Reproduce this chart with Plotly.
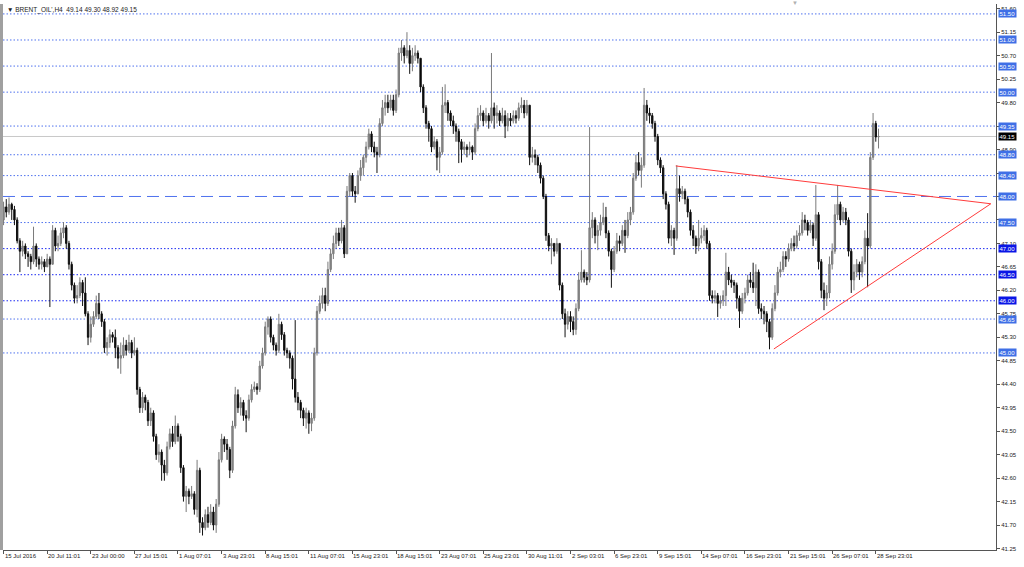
import plotly.graph_objects as go

# ---------------- data (H4 bars) ----------------
first_open = 47.55
closes = [
    47.80, 47.70, 47.85, 47.75, 47.55, 47.15, 46.95, 47.05, 46.90, 46.85,
    46.75, 47.05, 46.80, 46.70, 46.75, 46.65, 46.80, 46.70, 47.35, 47.05,
    47.10, 47.30, 47.40, 47.10, 46.70, 46.30, 46.05, 46.10, 46.35, 46.15,
    45.75, 45.30, 45.55, 45.70, 45.95, 45.75, 45.60, 45.10, 45.20, 45.35,
    45.30, 45.10, 44.90, 44.95, 45.15, 45.05, 45.20, 45.00, 45.05, 44.30,
    43.95, 44.15, 44.05, 43.70, 43.85, 43.40, 43.05, 43.10, 42.85, 42.70,
    43.20, 43.45, 43.30, 43.60, 43.40, 42.80, 42.25, 42.35, 42.25, 42.30,
    42.00, 42.75, 41.75, 41.65, 41.90, 41.75, 41.95, 41.70, 42.10, 42.95,
    43.35, 43.25, 43.15, 42.75, 43.60, 44.20, 43.95, 44.05, 43.80, 43.75,
    44.10, 44.30, 44.35, 44.30, 44.75, 45.00, 45.50, 45.65, 45.30, 45.15,
    45.05, 45.55, 45.35, 45.05, 45.00, 44.90, 44.50, 44.15, 44.05, 43.90,
    43.75, 43.85, 43.65, 43.75, 45.00, 45.80, 45.95, 46.10, 45.95, 46.60,
    46.90, 47.10, 47.30, 47.15, 47.40, 46.90, 48.10, 48.40, 48.10, 48.05,
    48.40, 48.55, 48.75, 48.95, 49.20, 48.95, 48.85, 48.80, 49.40, 49.70,
    49.80, 49.70, 49.85, 49.65, 49.95, 50.75, 50.85, 50.70, 50.80, 50.55,
    50.70, 50.75, 50.65, 50.10, 49.70, 49.40, 49.30, 48.95, 49.05, 48.75,
    48.85, 49.75, 49.80, 49.60, 49.45, 49.35, 49.25, 49.05, 48.90, 48.95,
    48.90, 48.95, 48.85, 49.30, 49.55, 49.60, 49.45, 49.55, 49.45, 49.70,
    49.55, 49.60, 49.45, 49.55, 49.35, 49.50, 49.45, 49.55, 49.50, 49.70,
    49.75, 49.60, 49.75, 48.75, 48.80, 48.75, 48.60, 48.35, 48.00, 47.25,
    47.05, 47.10, 46.95, 47.10, 46.30, 45.75, 45.55, 45.70, 45.60, 45.45,
    45.85, 46.40, 46.55, 46.45, 46.40, 47.40, 47.55, 47.25, 47.35, 47.50,
    47.60, 47.30, 46.95, 46.60, 46.95, 47.15, 47.10, 47.35, 47.25, 47.55,
    47.70, 48.35, 48.65, 48.50, 48.60, 49.75, 49.60, 49.55, 49.40, 49.15,
    48.70, 48.55, 48.05, 47.85, 47.20, 47.35, 47.20, 48.15, 48.05, 48.10,
    47.95, 47.70, 47.35, 47.20, 47.05, 47.20, 47.25, 47.35, 47.10, 46.10,
    46.05, 46.10, 45.95, 46.00, 46.10, 46.55, 46.40, 46.35, 46.30, 46.05,
    45.80, 46.05, 46.15, 46.40, 46.35, 46.25, 46.55, 45.85, 45.80, 45.75,
    45.60, 45.30, 45.85, 46.15, 46.55, 46.60, 46.85, 46.80, 47.00, 47.10,
    47.05, 47.25, 47.30, 47.55, 47.50, 47.35, 47.45, 47.20, 47.65, 46.75,
    46.20, 46.05, 46.15, 46.70, 46.95, 47.65, 47.85, 47.55, 47.70, 47.55,
    46.95, 46.40, 46.55, 46.70, 46.55, 46.75, 47.20, 47.05, 48.75, 49.40,
    49.14, 49.15,
]
highs = [
    47.90, 47.95, 47.98, 47.88, 47.82, 47.60, 47.20, 47.15, 47.10, 46.95,
    46.90, 47.42, 47.10, 46.85, 46.85, 46.80, 46.90, 46.85, 47.45, 47.40,
    47.25, 47.40, 47.51, 47.45, 47.15, 46.75, 46.35, 46.30, 46.45, 46.40,
    46.45, 45.80, 45.70, 45.80, 46.10, 46.15, 45.80, 45.65, 45.30, 45.45,
    45.40, 45.45, 45.15, 45.20, 45.30, 45.25, 45.35, 45.25, 45.30, 45.10,
    44.35, 44.25, 44.20, 44.10, 43.95, 43.90, 43.45, 43.25, 43.15, 42.95,
    43.30, 43.55, 43.60, 43.80, 43.65, 43.45, 42.85, 42.45, 42.40, 42.45,
    42.35, 42.95, 42.80, 41.85, 42.00, 42.05, 42.10, 42.05, 42.20, 43.10,
    43.45, 43.40, 43.35, 43.20, 43.70, 44.35, 44.30, 44.15, 44.10, 43.90,
    44.20, 44.40, 44.45, 44.42, 44.85, 45.10, 45.60, 45.70, 45.70, 45.35,
    45.20, 45.75, 45.60, 45.40, 45.10, 45.05, 44.95, 45.63, 44.25, 44.10,
    43.95, 43.95, 43.90, 43.85, 45.10, 45.90, 46.10, 46.25, 46.25, 46.75,
    47.00, 47.25, 47.40, 47.40, 47.55, 47.45, 48.20, 48.45, 48.45, 48.20,
    48.50, 48.70, 48.80, 49.05, 49.30, 49.25, 49.05, 48.95, 49.50, 49.85,
    49.95, 49.95, 49.95, 49.95, 50.05, 50.85, 51.00, 50.90, 51.15, 50.90,
    50.85, 50.90, 50.80, 50.50, 50.15, 49.75, 49.45, 49.35, 49.15, 49.10,
    48.95, 50.10, 50.15, 49.85, 49.65, 49.55, 49.40, 49.30, 49.10, 49.05,
    49.00, 49.05, 48.98, 49.40, 49.70, 49.75, 49.65, 49.70, 49.60, 50.75,
    49.80, 49.75, 49.65, 49.70, 49.65, 49.60, 49.60, 49.65, 49.65, 49.80,
    49.90, 49.85, 49.85, 49.75, 48.95, 48.90, 48.80, 48.65, 48.40, 48.05,
    47.30, 47.20, 47.10, 47.20, 47.10, 46.35, 45.85, 45.80, 45.80, 45.70,
    45.95, 46.55, 46.97, 46.60, 46.55, 49.33, 47.70, 47.60, 47.45, 47.65,
    47.88, 47.80, 47.35, 47.00, 47.05, 47.30, 47.25, 47.45, 47.55, 47.70,
    47.80, 48.45, 48.80, 48.85, 48.75, 50.08, 49.85, 49.70, 49.60, 49.45,
    49.20, 48.75, 48.60, 48.10, 47.90, 47.45, 47.40, 48.60, 48.40, 48.20,
    48.15, 48.00, 47.75, 47.45, 47.25, 47.55, 47.40, 47.45, 47.40, 47.15,
    46.20, 46.20, 46.15, 46.10, 46.20, 46.92, 46.65, 46.50, 46.40, 46.35,
    46.10, 46.15, 46.25, 46.50, 46.55, 46.73, 46.70, 46.60, 45.95, 45.90,
    45.80, 45.65, 45.95, 46.30, 46.65, 46.75, 46.95, 46.95, 47.10, 47.20,
    47.25, 47.35, 47.45, 47.70, 47.65, 47.55, 47.55, 47.50, 48.22, 47.70,
    46.80, 46.35, 46.30, 46.85, 47.10, 47.85, 48.22, 47.90, 47.80, 47.78,
    47.60, 47.00, 46.70, 46.80, 46.75, 46.85, 47.35, 47.68, 48.85, 49.60,
    49.45, 49.30,
]
lows = [
    47.45, 47.60, 47.65, 47.55, 47.45, 47.10, 46.55, 46.85, 46.80, 46.65,
    46.60, 46.70, 46.65, 46.60, 46.60, 46.55, 46.65, 45.88, 46.70, 46.95,
    46.95, 47.05, 47.20, 47.00, 46.60, 46.20, 45.95, 45.95, 46.05, 45.90,
    45.70, 45.15, 45.20, 45.50, 45.65, 45.65, 45.50, 45.00, 44.95, 45.10,
    45.20, 44.90, 44.70, 44.60, 44.90, 44.95, 45.00, 44.90, 44.95, 44.20,
    43.85, 43.85, 43.90, 43.60, 43.60, 43.30, 42.95, 42.90, 42.55, 42.55,
    42.65, 43.15, 43.20, 43.25, 43.30, 42.70, 42.15, 41.95, 42.10, 42.20,
    41.90, 41.85, 41.55, 41.50, 41.60, 41.65, 41.70, 41.60, 41.55, 42.05,
    42.90, 43.10, 42.95, 42.60, 42.70, 43.55, 43.85, 43.80, 43.70, 43.48,
    43.70, 44.05, 44.25, 44.20, 44.25, 44.70, 44.95, 45.35, 45.20, 45.05,
    44.95, 45.00, 45.25, 44.95, 44.90, 44.70, 44.30, 44.05, 43.90, 43.75,
    43.60, 43.55, 43.45, 43.50, 43.70, 44.95, 45.75, 45.85, 45.80, 45.90,
    46.55, 46.80, 47.00, 47.05, 47.10, 46.82, 46.90, 48.00, 48.00, 47.88,
    48.05, 48.30, 48.40, 48.65, 48.90, 48.85, 48.75, 48.45, 48.75, 49.35,
    49.55, 49.60, 49.65, 49.55, 49.60, 49.90, 50.60, 50.55, 50.65, 50.35,
    50.40, 50.60, 50.55, 50.00, 49.60, 49.30, 49.05, 48.85, 48.90, 48.50,
    48.45, 48.80, 49.60, 49.45, 49.35, 49.20, 49.05, 48.64, 48.65, 48.80,
    48.75, 48.80, 48.70, 48.80, 49.25, 49.45, 49.35, 49.40, 49.30, 49.40,
    49.30, 49.40, 49.35, 49.40, 49.12, 49.25, 49.35, 49.40, 49.40, 49.45,
    49.60, 49.50, 49.55, 48.60, 48.65, 48.60, 48.45, 48.25, 47.95, 47.15,
    46.95, 46.70, 46.85, 46.90, 46.20, 45.65, 45.30, 45.45, 45.40, 45.34,
    45.35, 45.80, 46.35, 46.35, 46.30, 46.35, 47.20, 47.10, 46.97, 47.25,
    47.45, 47.20, 46.85, 46.25, 46.55, 46.90, 46.95, 47.05, 46.92, 47.20,
    47.45, 47.65, 48.30, 48.40, 48.17, 48.55, 49.45, 49.40, 49.30, 49.05,
    48.60, 48.45, 47.95, 47.75, 47.10, 47.05, 46.88, 47.15, 47.90, 47.95,
    47.85, 47.60, 47.25, 47.05, 46.90, 46.95, 47.10, 47.15, 47.00, 46.00,
    45.95, 45.95, 45.69, 45.85, 45.90, 45.90, 46.30, 46.25, 46.15, 45.85,
    45.48, 45.75, 45.95, 46.10, 46.25, 46.15, 45.90, 45.75, 45.65, 45.55,
    45.40, 45.07, 45.25, 45.80, 46.10, 46.45, 46.55, 46.65, 46.75, 46.95,
    46.95, 47.00, 47.15, 47.25, 47.35, 47.25, 47.30, 47.05, 47.15, 46.60,
    46.05, 45.82, 45.90, 46.05, 46.60, 46.90, 47.55, 47.45, 47.50, 47.45,
    46.85, 46.15, 46.20, 46.45, 46.40, 46.45, 46.70, 46.26, 47.00, 48.70,
    49.05, 48.92,
]
opens = [first_open] + closes[:-1]

date_labels = [
    "15 Jul 2016", "20 Jul 11:01", "23 Jul 00:00", "27 Jul 15:01", "1 Aug 07:01",
    "3 Aug 23:01", "8 Aug 15:01", "11 Aug 07:01", "15 Aug 23:01", "18 Aug 15:01",
    "23 Aug 07:01", "25 Aug 23:01", "30 Aug 11:01", "2 Sep 03:01", "6 Sep 23:01",
    "9 Sep 15:01", "14 Sep 07:01", "16 Sep 23:01", "21 Sep 15:01", "26 Sep 07:01",
    "28 Sep 23:01",
]
bars_per_label = 16

# horizontal price levels drawn on the chart
levels_light = [51.50, 51.00, 50.50, 50.00, 49.35, 48.80, 48.40, 47.50, 45.65, 45.00]
levels_dark = [47.00, 46.50, 46.00]
level_dashed = 48.00
bid_price = 49.15

# triangle trend lines (bar index, price)
upper_line_x = [246.6, 362.2]
upper_line_y = [48.585, 47.86]
lower_line_x = [282.6, 362.2]
lower_line_y = [45.076, 47.86]

# right-axis tick labels (those hidden behind level boxes are left blank)
y_ticks = [41.25 + 0.45 * k for k in range(24)]
hidden_ticks = ["49.35", "48.45", "47.55"]

title_text = "BRENT_OIL',H4  49.14 49.30 48.92 49.15"

# ---------------- figure ----------------
n = len(closes)
xs = list(range(n))
highs_c = [max(h, o, c) for h, o, c in zip(highs, opens, closes)]
lows_c = [min(l, o, c) for l, o, c in zip(lows, opens, closes)]

FONT = "Liberation Sans"
LIGHT_LINE = "#4f72ee"
DARK_LINE = "#1a28f2"
LIGHT_BOX = "#3f6fe6"
DARK_BOX = "#0a16e6"

fig = go.Figure()

fig.add_trace(go.Candlestick(
    x=xs, open=opens, high=highs_c, low=lows_c, close=closes,
    increasing=dict(line=dict(color="#7a7a7a", width=1), fillcolor="#8c8c8c"),
    decreasing=dict(line=dict(color="#111111", width=1), fillcolor="#000000"),
    whiskerwidth=0, showlegend=False, hoverinfo="skip",
))

fig.add_trace(go.Scatter(x=upper_line_x, y=upper_line_y, mode="lines",
                         line=dict(color="#ff3b3b", width=1), showlegend=False, hoverinfo="skip"))
fig.add_trace(go.Scatter(x=lower_line_x, y=lower_line_y, mode="lines",
                         line=dict(color="#ff3b3b", width=1), showlegend=False, hoverinfo="skip"))

shapes = []
for lv in levels_light:
    shapes.append(dict(type="line", xref="paper", x0=0, x1=1, yref="y", y0=lv, y1=lv,
                       line=dict(color=LIGHT_LINE, width=1, dash="1.5px,2px"), layer="below"))
for lv in levels_dark:
    shapes.append(dict(type="line", xref="paper", x0=0, x1=1, yref="y", y0=lv, y1=lv,
                       line=dict(color=DARK_LINE, width=1, dash="1.5px,2px"), layer="below"))
shapes.append(dict(type="line", xref="paper", x0=0, x1=1, yref="y", y0=level_dashed, y1=level_dashed,
                   line=dict(color=LIGHT_LINE, width=1, dash="12px,6px"), layer="below"))
shapes.append(dict(type="line", xref="paper", x0=0, x1=1, yref="y", y0=bid_price, y1=bid_price,
                   line=dict(color="#c8c8c8", width=1), layer="below"))
# left window border strip
shapes.append(dict(type="rect", xref="paper", x0=-0.0031, x1=0, yref="paper", y0=0, y1=1,
                   fillcolor="#a0a0a0", line=dict(width=0)))

annotations = []
for lv in levels_light + [level_dashed]:
    annotations.append(dict(xref="paper", x=1, yref="y", y=lv, xanchor="left", yanchor="middle",
                            xshift=2, text=f"{lv:.2f}", showarrow=False, bgcolor=LIGHT_BOX,
                            borderpad=0.5, font=dict(family=FONT, size=6, color="white")))
for lv in levels_dark:
    annotations.append(dict(xref="paper", x=1, yref="y", y=lv, xanchor="left", yanchor="middle",
                            xshift=2, text=f"{lv:.2f}", showarrow=False, bgcolor=DARK_BOX,
                            borderpad=0.5, font=dict(family=FONT, size=6, color="white")))
annotations.append(dict(xref="paper", x=1, yref="y", y=bid_price, xanchor="left", yanchor="middle",
                        xshift=2, text=f"{bid_price:.2f}", showarrow=False, bgcolor="#000000",
                        borderpad=0.5, font=dict(family=FONT, size=6, color="white")))

for k, lab in enumerate(date_labels):
    annotations.append(dict(xref="x", x=k * bars_per_label, yref="paper", y=0, xanchor="left",
                            yanchor="top", xshift=-1, yshift=-1, text=lab, showarrow=False,
                            font=dict(family=FONT, size=6, color="#222222")))

annotations.append(dict(xref="paper", x=0.002, yref="paper", y=1, xanchor="left", yanchor="top",
                        yshift=0, text="\u25BC " + title_text, showarrow=False,
                        font=dict(family=FONT, size=6.5, color="#222222")))
annotations.append(dict(xref="paper", x=0.7976, yref="paper", y=1, xanchor="center", yanchor="middle",
                        yshift=1, text="\u25BC", showarrow=False,
                        font=dict(family=FONT, size=6, color="#b0b0b0")))

tick_text = []
for v in y_ticks:
    s = f"{v:.2f}"
    tick_text.append("" if s in hidden_ticks else s)

fig.update_layout(
    width=1024, height=567,
    margin=dict(l=3, r=28, t=4, b=17),
    paper_bgcolor="white", plot_bgcolor="white",
    shapes=shapes, annotations=annotations,
    xaxis=dict(range=[-0.2, 364.1], rangeslider=dict(visible=False), showgrid=False,
               zeroline=False, showline=True, linecolor="#555555", linewidth=1,
               tickvals=[k * bars_per_label for k in range(len(date_labels))],
               ticks="outside", ticklen=3, tickcolor="#555555", showticklabels=False),
    yaxis=dict(range=[41.222, 51.69], side="right", showgrid=False, zeroline=False,
               showline=True, linecolor="#555555", linewidth=1,
               tickvals=y_ticks, ticktext=tick_text,
               ticks="outside", ticklen=3, tickcolor="#555555",
               tickfont=dict(family=FONT, size=6, color="#222222")),
    hovermode=False,
)

fig.write_html("out.html", config={"displayModeBar": False},
               post_script="document.body.style.margin='0px';document.body.style.overflow='hidden';")
